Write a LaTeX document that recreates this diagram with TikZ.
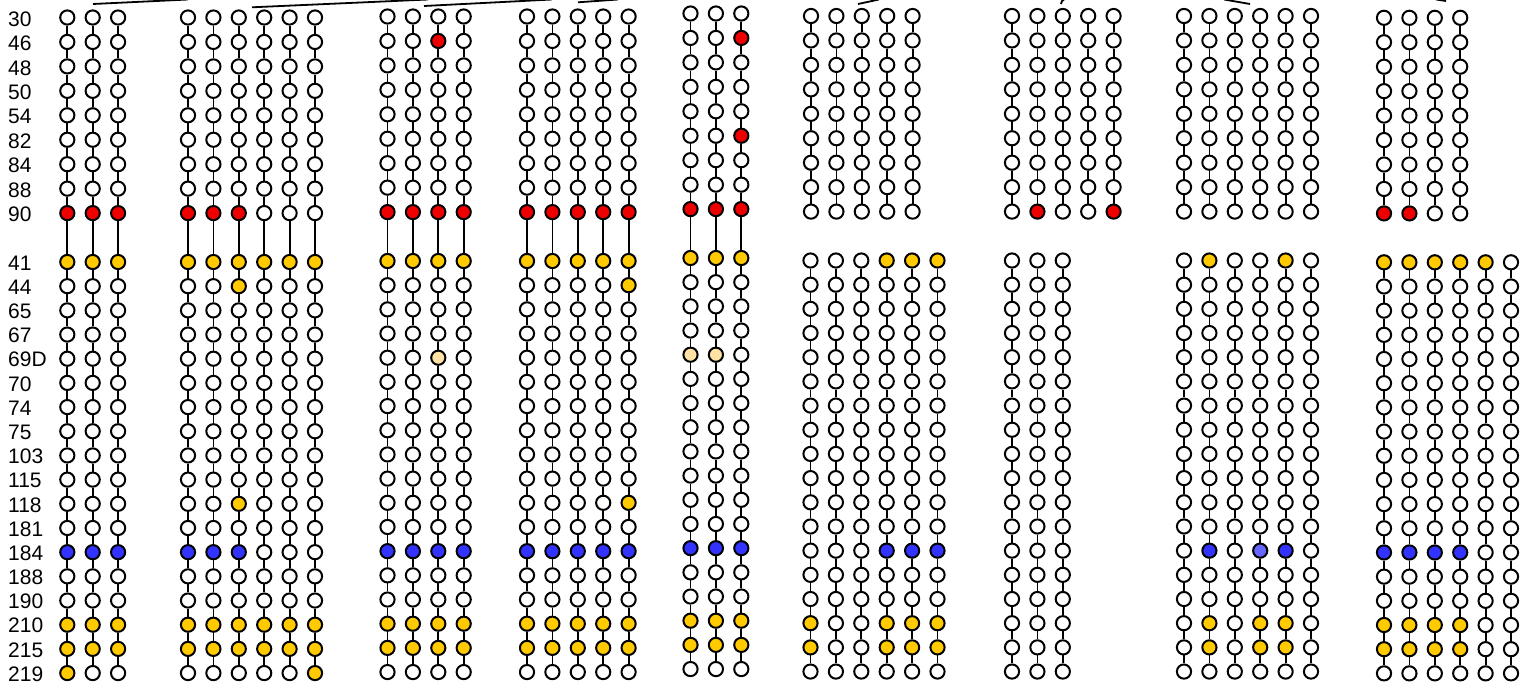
\documentclass[tikz,border=0pt]{standalone}
\usepackage{fontspec}
\setmainfont{Liberation Sans}
\usepackage{xcolor}
\usepackage{tikz}
\definecolor{siteRed}{HTML}{EE0000}
\definecolor{siteGold}{HTML}{FFCA00}
\definecolor{siteBlue}{HTML}{3333FF}
\definecolor{siteBlueLight}{HTML}{6666FF}
\definecolor{sitePale}{HTML}{FFE2A4}

\begin{document}
\begin{tikzpicture}[x=1pt,y=-1pt,
    site/.style={circle,draw=black,line width=2pt,minimum size=14.2pt,inner sep=0pt},
    link/.style={draw=black,line width=1.8pt},
    branch/.style={draw=black,line width=1.8pt},
    rowlab/.style={anchor=west,inner sep=0pt,font=\fontsize{21}{23}\selectfont}]
  \useasboundingbox (0,0) rectangle (1531,688);
  \foreach \gr/\rw/\cs/\fc in {
      1/9/{1,2,3}/siteRed, 1/10/{1,2,3}/siteGold, 1/22/{1,2,3}/siteBlue,
      1/25/{1,2,3}/siteGold, 1/26/{1,2,3}/siteGold, 1/27/{1}/siteGold,
      2/9/{1,2,3}/siteRed, 2/10/{1,...,6}/siteGold, 2/11/{3}/siteGold,
      2/20/{3}/siteGold, 2/22/{1,2,3}/siteBlue, 2/25/{1,...,6}/siteGold,
      2/26/{1,...,6}/siteGold, 2/27/{6}/siteGold,
      3/2/{3}/siteRed, 3/9/{1,...,4}/siteRed, 3/10/{1,...,4}/siteGold,
      3/14/{3}/sitePale, 3/22/{1,...,4}/siteBlue, 3/25/{1,...,4}/siteGold,
      3/26/{1,...,4}/siteGold,
      4/9/{1,...,5}/siteRed, 4/10/{1,...,5}/siteGold, 4/11/{5}/siteGold,
      4/20/{5}/siteGold, 4/22/{1,...,5}/siteBlue, 4/25/{1,...,5}/siteGold,
      4/26/{1,...,5}/siteGold,
      5/2/{3}/siteRed, 5/6/{3}/siteRed, 5/9/{1,2,3}/siteRed,
      5/10/{1,2,3}/siteGold, 5/14/{1,2}/sitePale, 5/22/{1,2,3}/siteBlue,
      5/25/{1,2,3}/siteGold, 5/26/{1,2,3}/siteGold,
      6/10/{4,5,6}/siteGold, 6/22/{4,5,6}/siteBlue,
      6/25/{1,4,5,6}/siteGold, 6/26/{1,4,5,6}/siteGold,
      7/9/{2,5}/siteRed,
      8/10/{2,5}/siteGold, 8/22/{2,5}/siteBlue, 8/22/{4}/siteBlueLight,
      8/25/{2,4,5}/siteGold, 8/26/{2,4,5}/siteGold,
      9/9/{1,2}/siteRed, 9/10/{1,...,5}/siteGold, 9/22/{1,...,4}/siteBlue,
      9/25/{1,...,4}/siteGold, 9/26/{1,...,4}/siteGold}
    {\foreach \cl in \cs
      {\expandafter\xdef\csname sf-\gr-\cl-\rw\endcsname{\fc}}}
  \foreach \gr/\xt/\xb/\nt/\nb/\dy/\jn in {1/67.3/67.3/3/3/0/1,
      2/188/188/6/6/0/1, 3/387.5/387.5/4/4/-1/1, 4/527/527/5/5/-1/1,
      5/690.5/690.5/3/3/-4/1, 6/811/810.5/5/6/-1.5/0, 7/1012/1012/5/3/-1.5/0,
      8/1184/1184/6/6/-1.5/0, 9/1384/1384/4/6/0.3/0}
  {
    \foreach \cl in {1,...,\nt}
      \foreach \rw in {1,...,9}
      {
        \ifcsname sf-\gr-\cl-\rw\endcsname
          \edef\sitefill{\csname sf-\gr-\cl-\rw\endcsname}
        \else
          \def\sitefill{white}
        \fi
        \node[site,fill=\sitefill] (n\gr-\cl-\rw)
          at ({\xt+25.4*(\cl-1)},{17.5+24.45*(\rw-1)+(\dy)}) {};
      }
    \foreach \cl in {1,...,\nb}
      \foreach \rw in {10,...,27}
      {
        \ifcsname sf-\gr-\cl-\rw\endcsname
          \edef\sitefill{\csname sf-\gr-\cl-\rw\endcsname}
        \else
          \def\sitefill{white}
        \fi
        \node[site,fill=\sitefill] (n\gr-\cl-\rw)
          at ({\xb+25.4*(\cl-1)},{262+24.18*(\rw-10)+(\dy)}) {};
      }
    \foreach \cl in {1,...,\nt}
      \foreach \rw in {1,...,8}
      {
        \pgfmathtruncatemacro\nx{\rw+1}
        \draw[link] (n\gr-\cl-\rw.south) -- (n\gr-\cl-\nx.north);
      }
    \foreach \cl in {1,...,\nb}
      \foreach \rw in {10,...,26}
      {
        \pgfmathtruncatemacro\nx{\rw+1}
        \draw[link] (n\gr-\cl-\rw.south) -- (n\gr-\cl-\nx.north);
      }
    \ifnum\jn=1
      \foreach \cl in {1,...,\nt}
        \draw[link] (n\gr-\cl-9.south) -- (n\gr-\cl-10.north);
    \fi
  }
  \foreach \rw/\txt in {1/30,2/46,3/48,4/50,5/54,6/82,7/84,8/88,9/90}
    \node[rowlab] (lab\rw) at (8,{17.5+24.45*(\rw-1)+1.5}) {\txt};
  \foreach \rw/\txt in {10/41,11/44,12/65,13/67,14/69D,15/70,16/74,17/75,
      18/103,19/115,20/118,21/181,22/184,23/188,24/190,25/210,26/215,27/219}
    \node[rowlab] (lab\rw) at (8,{262+24.18*(\rw-10)+1}) {\txt};
  \coordinate (f1a) at (93,4);     \coordinate (f1b) at (188,-0.5);
  \coordinate (f2a) at (252,7.3);  \coordinate (f2b) at (428,-0.5);
  \coordinate (f3a) at (424,6);    \coordinate (f3b) at (552,-0.5);
  \coordinate (f4a) at (578,2.3);  \coordinate (f4b) at (618,-0.5);
  \coordinate (f5a) at (858,4);    \coordinate (f5b) at (879,-0.5);
  \coordinate (f6a) at (1064,-0.5); \coordinate (f6b) at (1061,4);
  \coordinate (f7a) at (1224,-0.5); \coordinate (f7b) at (1250,4);
  \coordinate (f8a) at (1436,-0.5); \coordinate (f8b) at (1446,1);
  \draw[branch] (f1a) -- (f1b);
  \draw[branch] (f2a) -- (f2b);
  \draw[branch] (f3a) -- (f3b);
  \draw[branch] (f4a) -- (f4b);
  \draw[branch] (f5a) -- (f5b);
  \draw[branch] (f6a) to[bend right=30] (f6b);
  \draw[branch] (f7a) -- (f7b);
  \draw[branch] (f8a) -- (f8b);
\end{tikzpicture}
\end{document}
